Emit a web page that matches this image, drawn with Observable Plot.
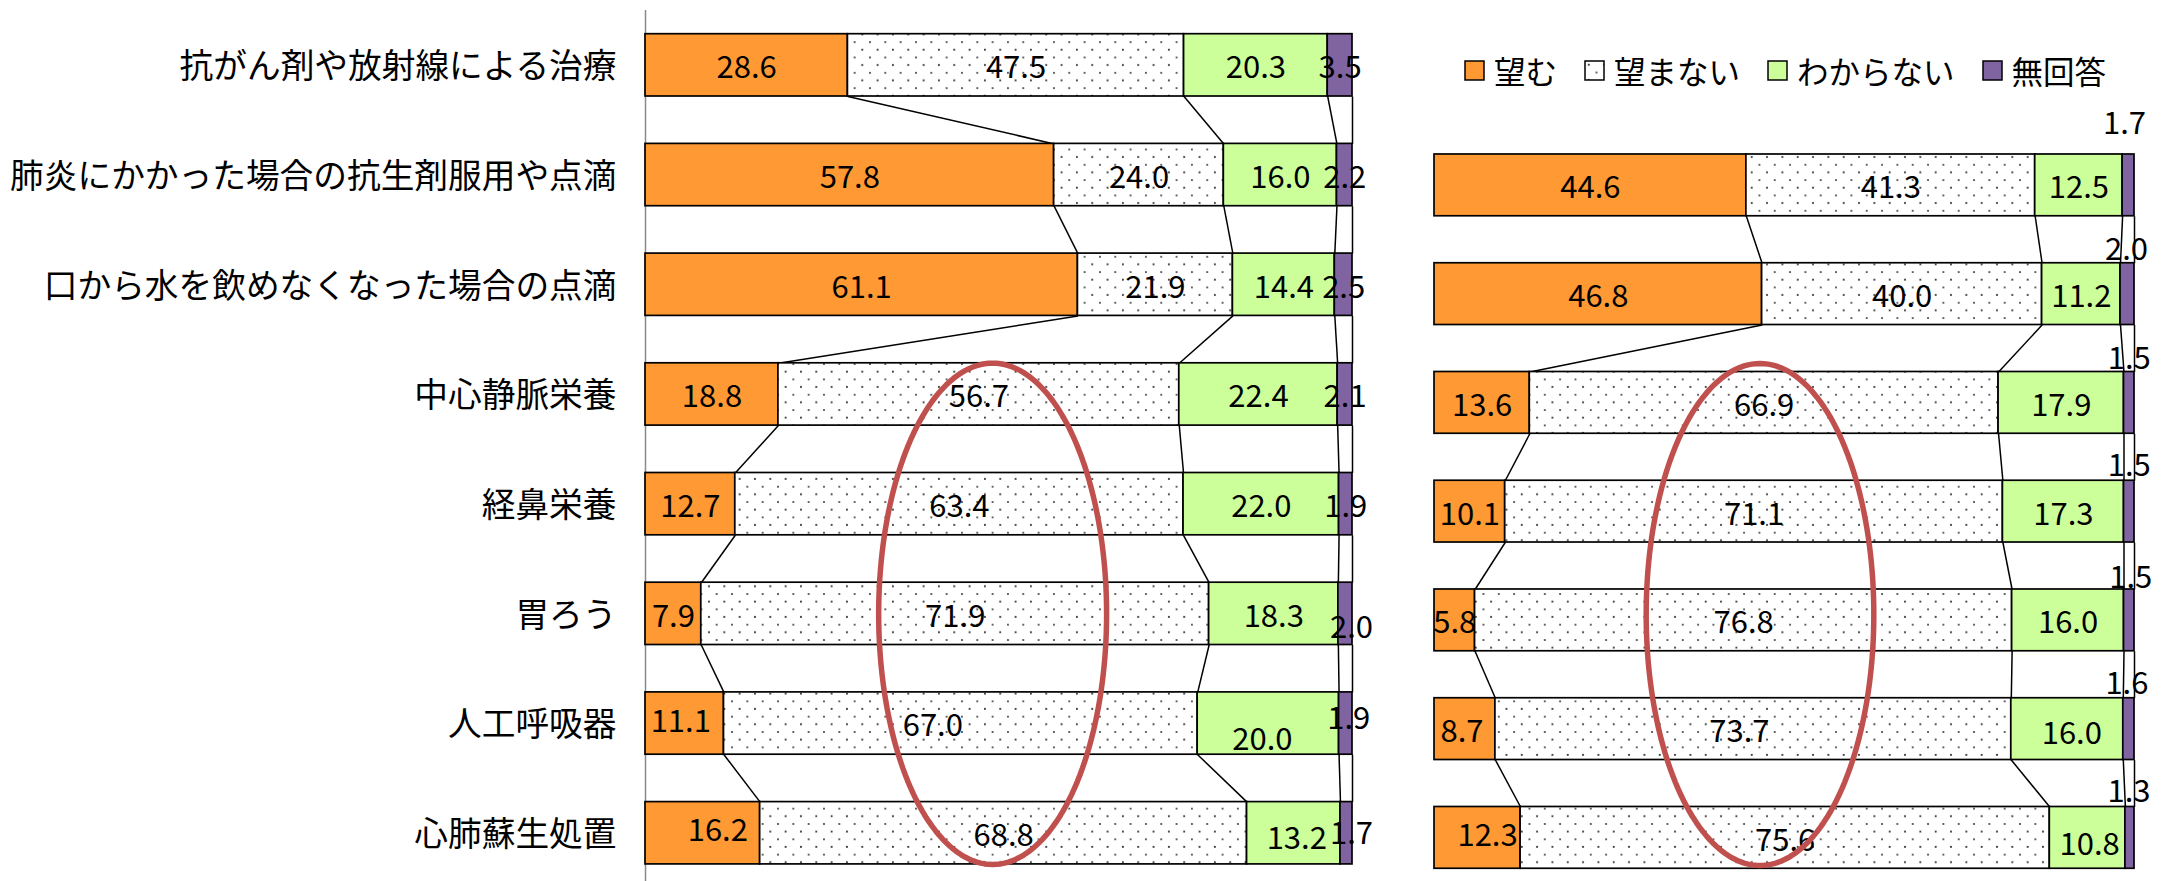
<!DOCTYPE html>
<html>
<head>
<meta charset="utf-8">
<script src="https://cdn.jsdelivr.net/npm/d3@7"></script>
<script src="https://cdn.jsdelivr.net/npm/@observablehq/plot@0.6"></script>
<style>
  html, body { margin: 0; padding: 0; background: #fff; overflow: hidden; }
  #root { position: relative; width: 2168px; height: 881px; overflow: hidden; font-family: "Noto Sans CJK JP", sans-serif; }
  #left { position: absolute; left: 0; top: 0; width: 1380px; height: 881px; }
  #right { position: absolute; left: 1380px; top: 0; width: 788px; height: 881px; }
  #legend { position: absolute; left: 1465px; top: 47px; }
  #root svg { max-width: none !important; }
  #legend .lg-swatches { font-family: "Noto Sans CJK JP", sans-serif !important; font-size: 31.5px !important; margin: 0 !important; min-height: 0 !important; color: #000; }
  #legend .lg-swatch { margin-right: 28px !important; }
  #legend .lg-swatch > svg { margin-right: 10px !important; overflow: visible; }
</style>
</head>
<body>
<svg width="0" height="0" style="position:absolute">
  <defs>
    <pattern id="dots" patternUnits="userSpaceOnUse" width="15.33" height="15.33">
      <rect width="15.33" height="15.33" fill="#ffffff"></rect>
      <circle cx="3.8" cy="3.8" r="1.05" fill="#3a3a3a"></circle>
      <circle cx="11.5" cy="11.5" r="1.05" fill="#3a3a3a"></circle>
    </pattern>
  </defs>
</svg>
<div id="root">
  <div id="left"></div>
  <div id="right"></div>
  <div id="legend"></div>
</div>
<script>
// ---------- data ----------
const series = ["望む", "望まない", "わからない", "無回答"];
const seriesColors = ["#FF9933", "url(#dots)", "#CCFF99", "#8064A2"];

const leftCategories = [
  "抗がん剤や放射線による治療",
  "肺炎にかかった場合の抗生剤服用や点滴",
  "口から水を飲めなくなった場合の点滴",
  "中心静脈栄養",
  "経鼻栄養",
  "胃ろう",
  "人工呼吸器",
  "心肺蘇生処置"
];
const leftWant      = [28.6, 57.8, 61.1, 18.8, 12.7, 7.9, 11.1, 16.2];
const leftNotWant   = [47.5, 24.0, 21.9, 56.7, 63.4, 71.9, 67.0, 68.8];
const leftUnknown   = [20.3, 16.0, 14.4, 22.4, 22.0, 18.3, 20.0, 13.2];
const leftNoAnswer  = [3.5, 2.2, 2.5, 2.1, 1.9, 2.0, 1.9, 1.7];

const rightCategories = [
  "肺炎にかかった場合の抗生剤服用や点滴",
  "口から水を飲めなくなった場合の点滴",
  "中心静脈栄養",
  "経鼻栄養",
  "胃ろう",
  "人工呼吸器",
  "心肺蘇生処置"
];
const rightWant     = [44.6, 46.8, 13.6, 10.1, 5.8, 8.7, 12.3];
const rightNotWant  = [41.3, 40.0, 66.9, 71.1, 76.8, 73.7, 75.6];
const rightUnknown  = [12.5, 11.2, 17.9, 17.3, 16.0, 16.0, 10.8];
const rightNoAnswer = [1.7, 2.0, 1.5, 1.5, 1.5, 1.6, 1.3];

// label nudges in pixels [dx, dy] (manual label placement in the original)
const leftLabelNudges = {
  "5-無回答": [6, 11],
  "6-望む": [-4, -4],
  "6-望まない": [-28, 0],
  "6-わからない": [-6, 14],
  "6-無回答": [3, -7],
  "7-望む": [15, -5],
  "7-わからない": [3, 3],
  "7-無回答": [5, -2]
};
const rightLabelNudges = {
  "0-無回答": [-4, -64],
  "1-無回答": [-1, -47],
  "2-無回答": [0, -47],
  "3-無回答": [0, -49],
  "4-無回答": [1.5, -45],
  "5-無回答": [-2, -48],
  "6-無回答": [-1, -49],
  "5-望む": [-3, 0],
  "5-望まない": [-14, 0],
  "5-わからない": [4.5, 2],
  "6-望む": [10, -5],
  "6-わからない": [2, 4]
};

// highlight ellipses (annotation, in data units: x = share, y = row)
const leftHighlight  = {cx: 0.491, cy: 5.0, rx: 0.1612, ry: 2.285};
const rightHighlight = {cx: 0.465, cy: 3.946, rx: 0.1626, ry: 2.308};

// ---------- helpers ----------
const FONT = "'Noto Sans CJK JP', sans-serif";
const HALF = 0.284; // half bar thickness in row units

function buildRecords(cats, cols) {
  const recs = [];
  cats.forEach((c, i) => {
    const vals = cols.map(col => col[i]);
    const total = d3.sum(vals);
    let acc = 0;
    vals.forEach((v, k) => {
      recs.push({row: i, category: c, series: series[k], value: v, x1: acc / total, x2: (acc + v) / total});
      acc += v;
    });
  });
  return recs;
}

function buildLinks(recs, n) {
  const links = [];
  for (let i = 0; i < n - 1; i++) {
    for (const s of series) {
      const a = recs.find(r => r.row === i && r.series === s);
      const b = recs.find(r => r.row === i + 1 && r.series === s);
      links.push({xa: a.x2, xb: b.x2, ya: i + HALF, yb: i + 1 - HALF});
    }
  }
  return links;
}

function ellipsePoints(h) {
  return d3.range(0, 360, 2).map(a => {
    const t = a * Math.PI / 180;
    return {x: h.cx + h.rx * Math.cos(t), y: h.cy + h.ry * Math.sin(t)};
  });
}

function labelMarks(recs, nudges) {
  const marks = [];
  const base = recs.filter(r => !nudges[r.row + "-" + r.series]);
  const common = {
    x: d => (d.x1 + d.x2) / 2,
    y: "row",
    text: d => d.value.toFixed(1),
    fontSize: 31,
    fontFamily: FONT,
    fill: "#000"
  };
  marks.push(Plot.text(base, {...common, dy: 3}));
  recs.filter(r => nudges[r.row + "-" + r.series]).forEach(r => {
    const [dx, dy] = nudges[r.row + "-" + r.series];
    marks.push(Plot.text([r], {...common, dx, dy: 3 + dy}));
  });
  return marks;
}

function panel({cats, cols, width, marginLeft, marginRight, yRange, nudges, highlight, withAxis}) {
  const n = cats.length;
  const recs = buildRecords(cats, cols);
  const links = buildLinks(recs, n);
  const marks = [];
  if (withAxis) {
    marks.push(Plot.ruleX([0], {stroke: "#8a8a8a", strokeWidth: 1.5}));
    marks.push(Plot.axisY({
      ticks: d3.range(n),
      tickFormat: i => cats[i],
      tickSize: 0,
      tickPadding: 29,
      fontSize: 33.7,
      fontFamily: FONT,
      fill: "#000",
      label: null,
      dy: 2
    }));
  }
  marks.push(Plot.link(links, {x1: "xa", y1: "ya", x2: "xb", y2: "yb", stroke: "#000", strokeWidth: 1.5}));
  marks.push(Plot.rectX(recs, {
    x1: "x1", x2: "x2",
    y1: d => d.row - HALF, y2: d => d.row + HALF,
    fill: "series", stroke: "#000", strokeWidth: 1.7
  }));
  marks.push(...labelMarks(recs, nudges));
  marks.push(Plot.line(ellipsePoints(highlight), {x: "x", y: "y", stroke: "#C0504D", strokeWidth: 5.5, curve: "linear-closed"}));
  return Plot.plot({
    width,
    height: 881,
    marginLeft,
    marginRight,
    marginTop: 10,
    marginBottom: 0,
    style: {background: "transparent", fontFamily: FONT, overflow: "visible", maxWidth: "none"},
    x: {domain: [0, 1], axis: null},
    y: {domain: [-0.5, n - 0.5], range: yRange, axis: null},
    color: {domain: series, range: seriesColors},
    marks
  });
}

// ---------- draw ----------
const leftChart = panel({
  cats: leftCategories,
  cols: [leftWant, leftNotWant, leftUnknown, leftNoAnswer],
  width: 1380, marginLeft: 645, marginRight: 28,
  yRange: [10, 887.6],
  nudges: leftLabelNudges,
  highlight: leftHighlight,
  withAxis: true
});
document.getElementById("left").appendChild(leftChart);

const rightChart = panel({
  cats: rightCategories,
  cols: [rightWant, rightNotWant, rightUnknown, rightNoAnswer],
  width: 788, marginLeft: 54, marginRight: 34,
  yRange: [130.5, 891.75],
  nudges: rightLabelNudges,
  highlight: rightHighlight,
  withAxis: false
});
document.getElementById("right").appendChild(rightChart);

const legend = Plot.legend({
  color: {domain: series, range: seriesColors},
  className: "lg",
  swatchSize: 19
});
document.getElementById("legend").appendChild(legend);
d3.select(legend).selectAll("svg rect").attr("stroke", "#000").attr("stroke-width", 1.5);
</script>
</body>
</html>
